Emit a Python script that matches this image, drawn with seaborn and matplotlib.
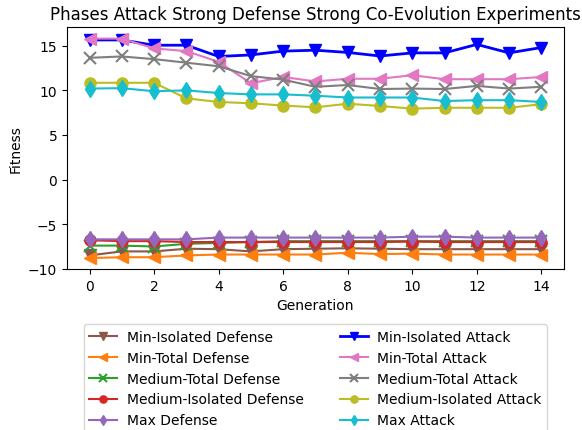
import matplotlib
matplotlib.use("Agg")
import matplotlib.pyplot as plt
import seaborn as sns
import numpy as np

generations = list(range(15))

min_isolated_defense = [-8.5, -8.05, -8.05, -7.75, -7.8, -8.05, -7.8, -7.75, -7.7, -7.75, -7.8, -7.8, -7.8, -7.8, -7.8]
min_total_defense = [-8.8, -8.7, -8.7, -8.5, -8.4, -8.4, -8.4, -8.4, -8.2, -8.35, -8.3, -8.4, -8.4, -8.4, -8.4]
medium_total_defense = [-7.4, -7.4, -7.5, -7.2, -7.1, -7.0, -6.9, -6.9, -6.9, -6.9, -6.9, -6.9, -6.9, -6.9, -6.9]
medium_isolated_defense = [-6.8, -6.9, -6.9, -7.0, -7.0, -7.0, -7.0, -7.0, -7.0, -7.0, -6.95, -7.0, -7.0, -7.0, -7.0]
max_defense = [-6.7, -6.7, -6.7, -6.7, -6.5, -6.5, -6.5, -6.5, -6.5, -6.5, -6.4, -6.4, -6.5, -6.5, -6.5]

min_isolated_attack = [15.65, 15.65, 15.06, 15.06, 13.8, 13.97, 14.4, 14.5, 14.25, 13.85, 14.2, 14.2, 15.15, 14.2, 14.8]
min_total_attack = [15.8, 15.8, 14.7, 14.4, 13.2, 10.8, 11.5, 11.0, 11.3, 11.3, 11.7, 11.25, 11.25, 11.25, 11.5]
medium_total_attack = [13.65, 13.8, 13.5, 13.1, 12.7, 11.6, 11.2, 10.4, 10.6, 10.15, 10.2, 10.15, 10.5, 10.2, 10.4]
medium_isolated_attack = [10.85, 10.85, 10.85, 9.1, 8.7, 8.55, 8.3, 8.1, 8.5, 8.25, 7.95, 8.05, 8.05, 8.05, 8.45]
max_attack = [10.2, 10.25, 9.9, 10.0, 9.7, 9.55, 9.55, 9.4, 9.2, 9.2, 9.2, 8.8, 8.9, 8.9, 8.7]

series = [
    ("Min-Isolated Defense", min_isolated_defense, "#8c564b", "v"),
    ("Min-Total Defense", min_total_defense, "#ff7f0e", "<"),
    ("Medium-Total Defense", medium_total_defense, "#2ca02c", "x"),
    ("Medium-Isolated Defense", medium_isolated_defense, "#d62728", "o"),
    ("Max Defense", max_defense, "#9467bd", "d"),
    ("Min-Isolated Attack", min_isolated_attack, "#0000ff", "v"),
    ("Min-Total Attack", min_total_attack, "#e377c2", "<"),
    ("Medium-Total Attack", medium_total_attack, "#7f7f7f", "x"),
    ("Medium-Isolated Attack", medium_isolated_attack, "#bcbd22", "o"),
    ("Max Attack", max_attack, "#17becf", "d"),
]

fig = plt.figure(figsize=(5.82, 4.31), dpi=100)
ax = fig.add_axes([0.115, 0.374, 0.854, 0.561])

for name, vals, col, mk in series:
    lw = 2.0 if col == "#0000ff" else 1.5
    sns.lineplot(x=generations, y=vals, ax=ax, color=col, marker=mk, markersize=8,
                 markeredgecolor=col, markeredgewidth=1.5 if mk == "x" else 1.0,
                 linewidth=lw, label=name)

ax.set_xlim(-0.7, 14.7)
ax.set_ylim(-10, 17.1)
ax.set_xticks([0, 2, 4, 6, 8, 10, 12, 14])
ax.set_yticks([-10, -5, 0, 5, 10, 15])
ax.set_xlabel("Generation")
ax.set_ylabel("Fitness")
ax.set_title("Phases Attack Strong Defense Strong Co-Evolution Experiments", fontsize=12)
ax.legend(loc="upper center", bbox_to_anchor=(0.5, -0.2), ncol=2, fontsize=10,
          columnspacing=2.6, markerscale=0.65, handletextpad=0.7)

fig.savefig("out.png", dpi=100)
